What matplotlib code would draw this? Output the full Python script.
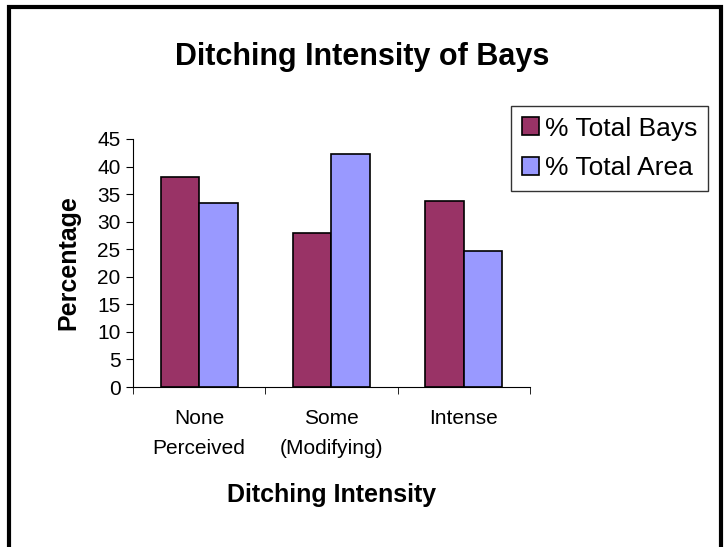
import matplotlib.pyplot as plt
from matplotlib.patches import Rectangle
import numpy as np

plt.rcParams['font.family'] = ['Liberation Sans', 'DejaVu Sans']

categories = ['None\nPerceived', 'Some\n(Modifying)', 'Intense']
total_bays = [38.1, 27.9, 33.8]
total_area = [33.4, 42.2, 24.6]
series_names = ['% Total Bays', '% Total Area']

fig = plt.figure(figsize=(7.25, 5.47), dpi=100)
ax = fig.add_axes([0.1834, 0.2925, 0.5476, 0.4534])

x = np.arange(len(categories))
w = 0.29
ax.bar(x - w / 2, total_bays, w, color='#993366', edgecolor='black',
       linewidth=1.2, label=series_names[0])
ax.bar(x + w / 2, total_area, w, color='#9999FF', edgecolor='black',
       linewidth=1.2, label=series_names[1])

ax.set_xlim(-0.5, len(categories) - 0.5)
ax.set_ylim(0, 45)
ax.set_yticks(range(0, 46, 5))
ax.tick_params(axis='y', labelsize=15, length=5, direction='out', pad=4)

# category labels in the middle, tick marks on the boundaries
ax.set_xticks(x)
ax.set_xticklabels(categories, fontsize=15, linespacing=1.75)
ax.tick_params(axis='x', which='major', length=0, pad=16)
ax.set_xticks(np.arange(-0.5, len(categories), 1.0), minor=True)
ax.tick_params(axis='x', which='minor', length=5, direction='out')

ax.spines['top'].set_visible(False)
ax.spines['right'].set_visible(False)

ax.set_xlabel('Ditching Intensity', fontsize=18, fontweight='bold', labelpad=18)
ax.set_ylabel('Percentage', fontsize=18, fontweight='bold', labelpad=12)

fig.text(0.5, 1 - 57 / 547, 'Ditching Intensity of Bays', fontsize=22,
         fontweight='bold', ha='center', va='center')

leg = fig.legend(loc='upper left', bbox_to_anchor=(511 / 725, 1 - 106 / 547),
                 fontsize=19, frameon=True, fancybox=False, edgecolor='black',
                 handlelength=0.65, handleheight=0.65, handletextpad=0.25,
                 borderpad=0.4, labelspacing=0.6, borderaxespad=0)
leg.get_frame().set_linewidth(1.0)

# outer chart border (bottom edge runs off the image)
fig.patches.append(Rectangle((9 / 725, -0.1), (721 - 9) / 725, 1.1 - 7 / 547,
                             transform=fig.transFigure, fill=False,
                             edgecolor='black', linewidth=3))

fig.savefig('out.png', dpi=100)
